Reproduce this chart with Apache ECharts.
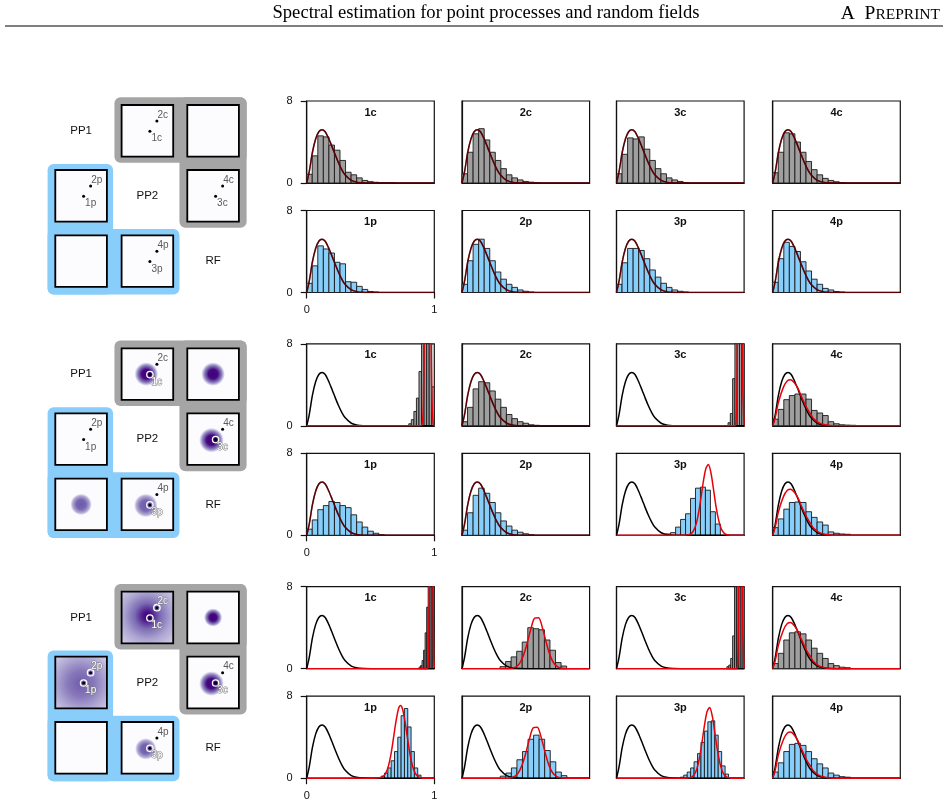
<!DOCTYPE html>
<html>
<head>
<meta charset="utf-8">
<script src="https://cdn.jsdelivr.net/npm/echarts@6/dist/echarts.min.js"></script>
<style>
  html, body { margin: 0; padding: 0; background: #fff; }
  #chart { width: 948px; height: 809px; }
</style>
</head>
<body>
<div id="chart"></div>
<script>
// ---- data ----
var ROW_LABELS = [['1c', '2c', '3c', '4c'], ['1p', '2p', '3p', '4p']];

// theoretical density (black), the same in every panel
var blackCurve = [[0, 0], [0.02, 1.1], [0.045, 3.0], [0.07, 4.3], [0.095, 5.0], [0.12, 5.2], [0.145, 5.0],
  [0.17, 4.4], [0.2, 3.5], [0.225, 2.7], [0.25, 1.95], [0.275, 1.3], [0.3, 0.8], [0.35, 0.25],
  [0.4, 0.06], [0.45, 0.01], [0.5, 0], [1, 0]];

// fitted densities (red)
var redWide = [[0, 0], [0.02, 0.8], [0.045, 2.3], [0.085, 3.8], [0.115, 4.4], [0.14, 4.5], [0.17, 4.2],
  [0.2, 3.6], [0.22, 3.0], [0.265, 1.8], [0.3, 1.1], [0.32, 0.7], [0.36, 0.3], [0.4, 0.12],
  [0.45, 0.03], [0.5, 0], [1, 0]];
var redG2_1c = [[0, 0], [0.88, 0], [0.9, 0.04], [0.91, 0.79], [0.915, 2.7], [0.92, 7.9], [0.93, 39],
  [0.94, 96], [0.95, 118], [0.96, 73], [0.97, 22], [0.975, 9.5], [0.98, 3.4], [0.99, 0.26], [1, 0]];
var redG2_3c = [[0, 0], [0.92, 0], [0.93, 0.02], [0.94, 1.04], [0.945, 4.8], [0.95, 15.8], [0.96, 69.6],
  [0.967, 94], [0.975, 63], [0.985, 12.7], [0.99, 3.6], [1, 0.1]];
var redG2_3p = [[0, 0], [0.5, 0], [0.55, 0.02], [0.58, 0.13], [0.6, 0.37], [0.62, 0.93], [0.64, 1.97],
  [0.66, 3.5], [0.68, 5.2], [0.7, 6.5], [0.72, 6.9], [0.74, 6.1], [0.76, 4.5], [0.78, 2.8],
  [0.8, 1.5], [0.82, 0.66], [0.84, 0.25], [0.86, 0.08], [0.88, 0.02], [0.9, 0], [1, 0]];
var redG3_1c = [[0, 0], [0.94, 0], [0.95, 0.13], [0.955, 1.3], [0.96, 8], [0.965, 28.5], [0.975, 79],
  [0.985, 28.5], [0.99, 8], [0.995, 1.3], [1, 0.13]];
var redG3_2c = [[0, 0], [0.35, 0], [0.38, 0.02], [0.42, 0.16], [0.45, 0.5], [0.48, 1.25], [0.51, 2.45],
  [0.54, 3.9], [0.57, 4.94], [0.6, 4.98], [0.63, 4.0], [0.66, 2.57], [0.69, 1.3], [0.72, 0.53],
  [0.75, 0.17], [0.78, 0.04], [0.82, 0], [1, 0]];
var redG3_3c = [[0, 0], [0.94, 0], [0.95, 0.72], [0.955, 5.2], [0.96, 23], [0.965, 61], [0.972, 100],
  [0.98, 52], [0.985, 17.7], [0.99, 3.7], [1, 0.03]];
var redG3_1p = [[0, 0], [0.52, 0], [0.55, 0.01], [0.58, 0.06], [0.6, 0.19], [0.62, 0.5], [0.64, 1.17],
  [0.66, 2.3], [0.68, 3.9], [0.7, 5.56], [0.72, 6.8], [0.735, 7.1], [0.75, 6.8], [0.77, 5.56],
  [0.79, 3.9], [0.81, 2.3], [0.83, 1.17], [0.85, 0.5], [0.87, 0.19], [0.89, 0.06], [0.91, 0], [1, 0]];
var redG3_2p = [[0, 0], [0.34, 0], [0.37, 0.02], [0.41, 0.16], [0.44, 0.5], [0.47, 1.25], [0.5, 2.45],
  [0.53, 3.9], [0.56, 4.94], [0.59, 4.98], [0.62, 4.0], [0.65, 2.57], [0.68, 1.3], [0.71, 0.53],
  [0.74, 0.17], [0.77, 0.04], [0.81, 0], [1, 0]];
var redG3_3p = [[0, 0], [0.5, 0], [0.56, 0.02], [0.59, 0.13], [0.61, 0.37], [0.63, 0.93], [0.65, 1.97],
  [0.67, 3.5], [0.69, 5.2], [0.71, 6.5], [0.73, 6.9], [0.75, 6.1], [0.77, 4.5], [0.79, 2.8],
  [0.81, 1.5], [0.83, 0.66], [0.85, 0.25], [0.87, 0.08], [0.89, 0.02], [0.91, 0], [1, 0]];

// histograms: first bin edge, bin width, bar heights
var g1_1c = { start: 0, width: 0.0435, h: [0.85, 2.65, 4.6, 4.5, 3.7, 3.2, 2.2, 1.05, 0.8, 0.5, 0.25, 0.13, 0.07, 0.03, 0, 0.02] };
var g1_2c = { start: 0, width: 0.0435, h: [0.9, 3.0, 4.8, 5.3, 4.2, 3.0, 2.2, 1.4, 0.8, 0.5, 0.3, 0.15, 0.08, 0.03] };
var g1_3c = { start: 0, width: 0.0435, h: [0.9, 2.8, 4.4, 4.3, 4.5, 3.3, 2.2, 1.4, 0.9, 0.5, 0.3, 0.15, 0.05] };
var g1_4c = { start: 0, width: 0.0435, h: [1.0, 3.0, 4.9, 4.8, 4.0, 3.0, 2.1, 1.3, 0.8, 0.45, 0.25, 0.12, 0.05] };
var g1_1p = { start: 0, width: 0.0435, h: [0.9, 2.6, 4.55, 4.25, 3.85, 2.95, 2.8, 1.05, 1.0, 0.6, 0.3, 0.1, 0.05] };
var g1_2p = { start: 0, width: 0.0435, h: [0.8, 3.1, 4.7, 5.2, 4.3, 3.1, 2.0, 1.3, 0.8, 0.5, 0.25, 0.12, 0.05] };
var g1_3p = { start: 0, width: 0.0435, h: [0.8, 2.9, 4.3, 4.3, 4.1, 3.3, 2.2, 1.5, 0.9, 0.5, 0.25, 0.12, 0.05] };
var g1_4p = { start: 0, width: 0.0435, h: [1.0, 3.3, 4.9, 4.5, 4.0, 3.0, 2.1, 1.3, 0.8, 0.4, 0.25, 0.1, 0.05] };

var g2_1c = { start: 0.80, width: 0.02, h: [0.2, 0.6, 1.4, 2.7, 5.3, 11, 18, 20, 12, 3.8] };
var g2_2c = { start: 0, width: 0.0435, h: [0.4, 1.8, 3.6, 4.3, 4.2, 3.4, 2.6, 1.8, 1.1, 0.7, 0.4, 0.25, 0.1, 0.05] };
var g2_3c = { start: 0.874, width: 0.018, h: [0.3, 1.2, 4.6, 12, 20, 18, 9] };
var g2_4c = { start: 0, width: 0.0435, h: [0.65, 1.6, 2.55, 2.95, 3.1, 3.1, 2.6, 1.5, 1.25, 1.0, 0.4, 0.2, 0.1, 0.07, 0.05] };
var g2_1p = { start: 0, width: 0.0435, h: [0.6, 1.5, 2.5, 2.9, 3.3, 3.2, 2.9, 2.7, 2.0, 1.3, 0.8, 0.4, 0.2, 0.05] };
var g2_2p = { start: 0, width: 0.0435, h: [0.5, 2.2, 3.9, 4.6, 4.1, 3.2, 2.2, 1.4, 0.9, 0.5, 0.3, 0.15, 0.05] };
var g2_3p = { start: 0.385, width: 0.039, h: [0.13, 0.26, 0.8, 1.55, 2.1, 3.6, 4.6, 4.7, 4.4, 2.3, 1.1] };
var g2_4p = { start: 0, width: 0.0435, h: [0.75, 1.6, 2.55, 3.2, 3.25, 3.2, 2.3, 1.75, 1.3, 1.0, 0.33, 0.2, 0.13, 0.1] };

var g3_1c = { start: 0.88, width: 0.012, h: [0.15, 0.3, 0.8, 1.8, 3.5, 6, 12, 20, 25, 15] };
var g3_2c = { start: 0.298, width: 0.0435, h: [0.2, 0.7, 1.15, 1.7, 2.6, 4.0, 3.9, 3.8, 2.8, 1.8, 0.6, 0.26] };
var g3_3c = { start: 0.865, width: 0.015, h: [0.2, 0.35, 1.0, 3.2, 9, 16, 22, 18, 9] };
var g3_4c = { start: 0, width: 0.0435, h: [0.5, 1.5, 2.8, 3.5, 3.6, 3.4, 2.8, 2.0, 1.5, 1.0, 0.5, 0.3, 0.15, 0.1] };
var g3_1p = { start: 0.584, width: 0.026, h: [0.2, 0.5, 1.0, 1.7, 2.6, 4.0, 6.1, 6.8, 5.0, 2.6, 1.0, 0.3] };
var g3_2p = { start: 0.3, width: 0.0435, h: [0.2, 0.5, 1.0, 1.8, 2.6, 3.8, 4.2, 3.8, 2.7, 1.6, 0.6, 0.25] };
var g3_3p = { start: 0.5, width: 0.027, h: [0.1, 0.3, 0.6, 1.0, 1.6, 2.4, 3.5, 4.6, 5.5, 5.6, 4.2, 2.6, 1.2, 0.4] };
var g3_4p = { start: 0, width: 0.0435, h: [0.6, 1.5, 2.6, 3.3, 3.4, 3.2, 2.6, 1.9, 1.4, 1.0, 0.5, 0.3, 0.15, 0.1] };

var HISTS = [
  [[g1_1c, g1_2c, g1_3c, g1_4c], [g1_1p, g1_2p, g1_3p, g1_4p]],
  [[g2_1c, g2_2c, g2_3c, g2_4c], [g2_1p, g2_2p, g2_3p, g2_4p]],
  [[g3_1c, g3_2c, g3_3c, g3_4c], [g3_1p, g3_2p, g3_3p, g3_4p]]
];
var REDS = [
  [[blackCurve, blackCurve, blackCurve, blackCurve], [blackCurve, blackCurve, blackCurve, blackCurve]],
  [[redG2_1c, blackCurve, redG2_3c, redWide], [blackCurve, blackCurve, redG2_3p, redWide]],
  [[redG3_1c, redG3_2c, redG3_3c, redWide], [redG3_1p, redG3_2p, redG3_3p, redWide]]
];

// ---- layout ----
var COL_LEFT = [306.7, 462, 616.5, 772.7];
var PW = 127.6, PH = 82;
var GROUP_TOP = [101, 343.8, 586.7];
var ROW_GAP = 109.5;

var SQ_X = [55.3, 121.6, 187.3], SQ_Y = [105, 170, 235.3], SQ = 51.6, PAD = 7.7;
var GROUP_DY = [0, 243.3, 486.7];
var LIGHT = '#fcfbfd';

function histData(hs) {
  return hs.h.map(function (v, k) {
    var x0 = hs.start + k * hs.width;
    return [x0, x0 + hs.width, v];
  });
}

function renderHist(color) {
  return function (params, api) {
    var a = api.coord([api.value(0), api.value(2)]);
    var b = api.coord([api.value(1), 0]);
    var cs = params.coordSys;
    var rect = echarts.graphic.clipRectByRect(
      { x: a[0], y: a[1], width: b[0] - a[0], height: b[1] - a[1] },
      { x: cs.x, y: cs.y, width: cs.width, height: cs.height });
    if (!rect) return null;
    return {
      type: 'rect', shape: rect,
      style: { fill: color, stroke: '#1a1a1a', lineWidth: 0.9 }
    };
  };
}

var grids = [], xAxes = [], yAxes = [], series = [], elements = [];

for (var g = 0; g < 3; g++) {
  for (var r = 0; r < 2; r++) {
    for (var c = 0; c < 4; c++) {
      var idx = grids.length;
      var panelTop = GROUP_TOP[g] + r * ROW_GAP;
      var panelLeft = COL_LEFT[c];
      var showX = (c === 0 && r === 1);
      var showY = (c === 0);
      grids.push({
        left: panelLeft, top: panelTop, width: PW, height: PH,
        show: true, borderColor: '#111', borderWidth: 1.2
      });
      xAxes.push({
        type: 'value', gridIndex: idx, min: 0, max: 1, interval: 1,
        splitLine: { show: false },
        axisLine: { show: true, lineStyle: { color: '#111', width: 1.2 } },
        axisTick: { show: showX, length: 6, lineStyle: { color: '#111', width: 1.2 } },
        axisLabel: { show: showX, margin: 12, color: '#111', fontSize: 11, fontFamily: 'Liberation Sans' }
      });
      yAxes.push({
        type: 'value', gridIndex: idx, min: 0, max: 8, interval: 8,
        splitLine: { show: false },
        axisLine: { show: true, lineStyle: { color: '#111', width: 1.2 } },
        axisTick: { show: showY, length: 6, lineStyle: { color: '#111', width: 1.2 } },
        axisLabel: { show: showY, margin: 14, color: '#111', fontSize: 11, fontFamily: 'Liberation Sans' }
      });

      series.push({
        type: 'custom', xAxisIndex: idx, yAxisIndex: idx, silent: true, z: 2,
        renderItem: renderHist(r === 0 ? '#9f9f9f' : '#87cefa'),
        encode: { x: [0, 1], y: 2 },
        data: histData(HISTS[g][r][c])
      });
      series.push({
        type: 'line', xAxisIndex: idx, yAxisIndex: idx, silent: true, z: 3,
        showSymbol: false, symbol: 'none', smooth: 0.3,
        lineStyle: { color: '#000', width: 1.5 },
        data: blackCurve
      });
      var red = REDS[g][r][c];
      series.push({
        type: 'line', xAxisIndex: idx, yAxisIndex: idx, silent: true, z: 4,
        showSymbol: false, symbol: 'none', smooth: 0.3,
        lineStyle: { color: '#e8000b', width: 1.5, opacity: red === blackCurve ? 0.4 : 1 },
        data: red
      });

      elements.push({
        type: 'text', x: panelLeft + PW / 2, y: panelTop + 11.5, z: 10,
        style: {
          text: ROW_LABELS[r][c], fill: '#111', font: 'bold 11px "Liberation Sans"',
          textAlign: 'center', textVerticalAlign: 'middle'
        }
      });
    }
  }
}

// ---- header ----
elements.push({
  type: 'text', x: 486, y: 13.5, z: 10,
  style: {
    text: 'Spectral estimation for point processes and random fields', fill: '#000',
    font: '18.6px "Liberation Serif"', textAlign: 'center', textVerticalAlign: 'middle'
  }
});
var measureCtx = document.createElement('canvas').getContext('2d');
measureCtx.font = '15.5px "Liberation Serif"';
var smallW = measureCtx.measureText('REPRINT').width;
elements.push({
  type: 'text', x: 940, y: 14.5, z: 10,
  style: { text: 'REPRINT', fill: '#000', font: '15.5px "Liberation Serif"', textAlign: 'right', textVerticalAlign: 'middle' }
});
elements.push({
  type: 'text', x: 940 - smallW, y: 13.5, z: 10,
  style: { text: 'A  P', fill: '#000', font: '19.5px "Liberation Serif"', textAlign: 'right', textVerticalAlign: 'middle' }
});
elements.push({
  type: 'line', z: 10,
  shape: { x1: 5, y1: 26, x2: 943, y2: 26 },
  style: { stroke: '#000', lineWidth: 1 }
});

// ---- left hand matrix diagrams ----
function stops(list) {
  return list.map(function (s) { return { offset: s[0], color: s[1] }; });
}
var DARK = [[0, '#3f007d'], [0.4, '#45097f'], [0.75, '#9088c2'], [1, LIGHT]];
var PALE = [[0, '#6e5aaa'], [0.45, '#7766b0'], [0.8, '#b2abd4'], [1, LIGHT]];
var WIDE_DARK = [[0, '#3f007d'], [0.1, '#4a1486'], [0.3, '#7b6bb3'], [0.55, '#aca4d1'], [1, '#e4e0f1']];
var WIDE_PALE = [[0, '#6f5cab'], [0.3, '#8777ba'], [0.6, '#b0a8d3'], [1, '#e4e0f1']];

var BLOBS = [
  {},
  { '0-1': [0.48, 0.5, 0.22, DARK], '0-2': [0.5, 0.5, 0.22, DARK], '1-2': [0.47, 0.52, 0.23, DARK],
    '2-0': [0.5, 0.5, 0.2, PALE], '2-1': [0.47, 0.52, 0.22, PALE] },
  { '0-1': [0.5, 0.47, 0.8, WIDE_DARK], '0-2': [0.5, 0.5, 0.17, DARK], '1-0': [0.5, 0.52, 0.8, WIDE_PALE],
    '1-2': [0.47, 0.52, 0.23, DARK], '2-1': [0.47, 0.52, 0.2, PALE] }
];
var DOTS = { '0-1': ['1c', '2c'], '1-0': ['1p', '2p'], '1-2': ['3c', '4c'], '2-1': ['3p', '4p'] };
var RINGED = [[], ['1c', '3c', '3p'], ['1c', '2c', '1p', '2p', '3c', '3p']];
var DIAG = ['PP1', 'PP2', 'RF'];
var CELLS = [[0, 1], [0, 2], [1, 0], [1, 2], [2, 0], [2, 1]];

function roundRect(x0, y0, x1, y1, fill) {
  return { type: 'rect', z: 1, shape: { x: x0, y: y0, width: x1 - x0, height: y1 - y0, r: 6 }, style: { fill: fill } };
}

for (var gg = 0; gg < 3; gg++) {
  var dy = GROUP_DY[gg];
  var sy = SQ_Y.map(function (v) { return v + dy; });
  var mc01 = (SQ_X[0] + SQ + SQ_X[1]) / 2, mc12 = (SQ_X[1] + SQ + SQ_X[2]) / 2;
  var mr01 = (sy[0] + SQ + sy[1]) / 2, mr12 = (sy[1] + SQ + sy[2]) / 2;
  var gray = '#a5a5a5', blue = '#89cdfa';
  elements.push(roundRect(mc01 + 0.2, sy[0] - PAD, SQ_X[2] + SQ + PAD, mr01 - 0.6, gray));
  elements.push(roundRect(mc12 - 0.8, sy[0] - PAD, SQ_X[2] + SQ + PAD, mr12 - 0.6, gray));
  elements.push(roundRect(SQ_X[0] - PAD, mr01 + 0.6, mc01 - 1.2, sy[2] + SQ + PAD, blue));
  elements.push(roundRect(SQ_X[0] - PAD, mr12 + 0.6, mc12 - 0.8, sy[2] + SQ + PAD, blue));

  for (var d = 0; d < 3; d++) {
    elements.push({
      type: 'text', x: SQ_X[d] + SQ / 2, y: sy[d] + SQ / 2, z: 3,
      style: { text: DIAG[d], fill: '#111', font: '11.5px "Liberation Sans"', textAlign: 'center', textVerticalAlign: 'middle' }
    });
  }

  CELLS.forEach(function (cell) {
    var key = cell[0] + '-' + cell[1];
    var x = SQ_X[cell[1]], y = sy[cell[0]];
    var b = BLOBS[gg][key];
    var fill = b ? { type: 'radial', x: b[0], y: b[1], r: b[2], colorStops: stops(b[3]), global: false } : LIGHT;
    elements.push({
      type: 'rect', z: 2, shape: { x: x, y: y, width: SQ, height: SQ },
      style: { fill: fill, stroke: '#000', lineWidth: 1.8 }
    });
    var names = DOTS[key];
    if (!names) return;
    var pts = [[x + 28.3, y + 26.3], [x + 35.3, y + 16]];
    names.forEach(function (nm, k) {
      var ringed = RINGED[gg].indexOf(nm) >= 0;
      if (ringed) {
        elements.push({ type: 'circle', z: 4, shape: { cx: pts[k][0], cy: pts[k][1], r: 3.2 }, style: { fill: 'none', stroke: '#fff', lineWidth: 1.3 } });
      }
      elements.push({ type: 'circle', z: 5, shape: { cx: pts[k][0], cy: pts[k][1], r: 1.5 }, style: { fill: '#000' } });
      var st = {
        text: nm, font: '10px "Liberation Sans"',
        fill: ringed ? '#fff' : '#5a5a5a',
        textAlign: 'left', textVerticalAlign: k === 0 ? 'top' : 'bottom'
      };
      if (ringed) { st.stroke = '#777'; st.lineWidth = 1; }
      elements.push({
        type: 'text', z: 5,
        x: k === 0 ? pts[k][0] + 1.5 : pts[k][0] + 0.6,
        y: k === 0 ? pts[k][1] + 2.2 : pts[k][1] - 1.2,
        style: st
      });
    });
  });
}

var chart = echarts.init(document.getElementById('chart'));
chart.setOption({
  animation: false,
  grid: grids,
  xAxis: xAxes,
  yAxis: yAxes,
  series: series,
  graphic: { elements: elements }
});
</script>
</body>
</html>
